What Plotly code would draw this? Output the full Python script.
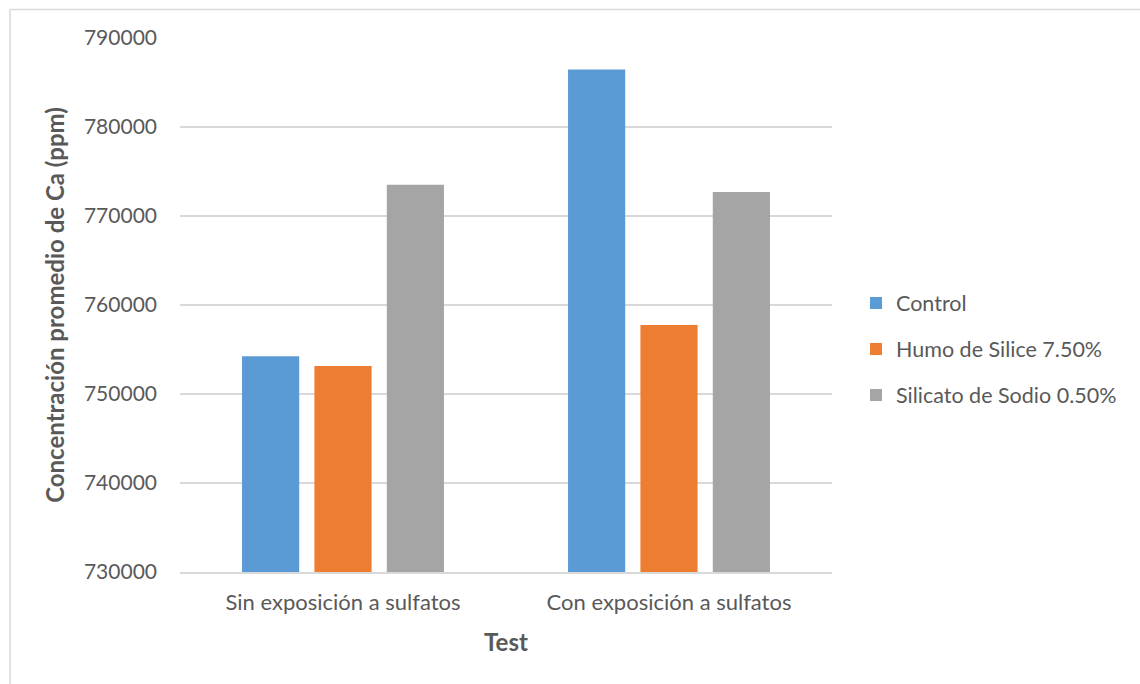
import plotly.graph_objects as go

categories = ["Sin exposición a sulfatos", "Con exposición a sulfatos"]
series_names = ["Control", "Humo de Silice 7.50%", "Silicato de Sodio 0.50%"]
control = [754250, 786450]
humo = [753150, 757750]
silicato = [773500, 772700]
colors = ["#5B9BD5", "#ED7D31", "#A5A5A5"]
y_ticks = [730000, 740000, 750000, 760000, 770000, 780000, 790000]

W, H = 1140, 684
L, R, T, B = 180, 308, 38, 112

FONT = "Lato"
TXT = "#595959"

fig = go.Figure()
for i, (name, vals, col) in enumerate(zip(series_names, [control, humo, silicato], colors)):
    fig.add_trace(go.Bar(x=categories, y=vals, name=name, marker_color=col,
                         marker_line_width=0, legendgroup=f"g{i}"))

pw = W - L - R
ph = H - T - B
def px2paper_x(px):
    return (px - L) / pw
def py2paper_y(py):
    return (H - B - py) / ph

fig.update_layout(
    width=W, height=H,
    margin=dict(l=L, r=R, t=T, b=B, pad=0),
    paper_bgcolor="white", plot_bgcolor="white",
    barmode="group", bargap=0.334, bargroupgap=0.21,
    font=dict(family=FONT, color=TXT, size=20),
    xaxis=dict(
        showgrid=False, showline=True, linecolor="#D9D9D9", linewidth=1.5,
        ticks="", ticklabelstandoff=10, tickfont=dict(size=22, color=TXT, family=FONT),
        title=dict(text="<b>Test</b>", font=dict(size=24, color=TXT, family=FONT), standoff=20),
    ),
    yaxis=dict(
        range=[730000, 790000], tickvals=y_ticks, tickformat="d",
        showgrid=True, gridcolor="#D9D9D9", gridwidth=1.5,
        zeroline=False, showline=False, ticks="", ticklabelstandoff=22,
        tickfont=dict(size=21, color=TXT, family=FONT),
        title=dict(text="<b>Concentración promedio de Ca (ppm)</b>",
                   font=dict(size=24, color=TXT, family=FONT), standoff=12),
    ),
    legend=dict(
        x=px2paper_x(856), xanchor="left", y=py2paper_y(349), yanchor="middle",
        font=dict(size=21.5, color=TXT, family=FONT), tracegroupgap=15,
        traceorder="grouped",
        itemsizing="constant", bgcolor="rgba(0,0,0,0)", itemwidth=30,
    ),
    showlegend=True,
)

fig.add_shape(type="line", xref="paper", yref="paper",
              x0=px2paper_x(10), x1=px2paper_x(1145), y0=py2paper_y(9.5), y1=py2paper_y(9.5),
              line=dict(color="#D9D9D9", width=1.5))
fig.add_shape(type="line", xref="paper", yref="paper",
              x0=px2paper_x(10), x1=px2paper_x(10), y0=py2paper_y(9.5), y1=py2paper_y(690),
              line=dict(color="#D9D9D9", width=1.5))

fig.write_html("out.html")
